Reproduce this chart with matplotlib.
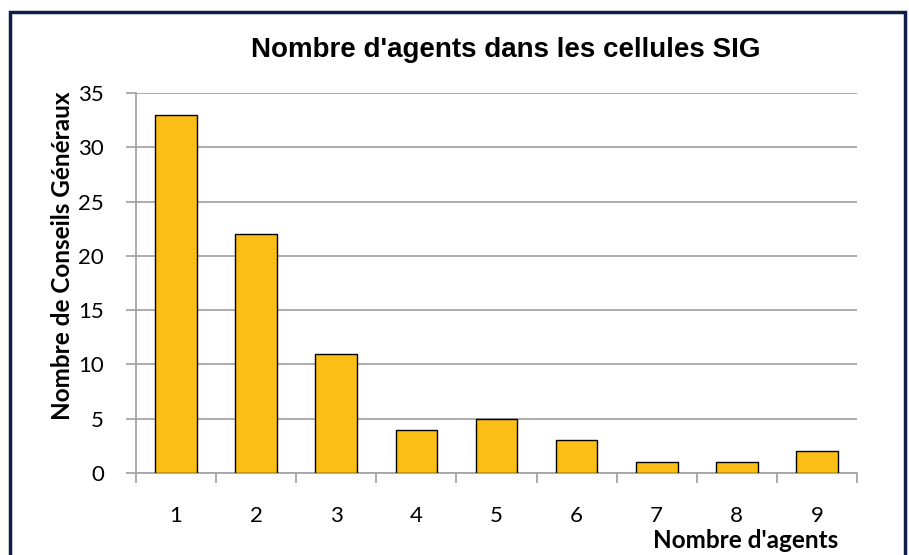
import matplotlib
matplotlib.use("Agg")
import matplotlib.pyplot as plt
from matplotlib.patches import Rectangle

# data
agents = ["1", "2", "3", "4", "5", "6", "7", "8", "9"]
conseils = [33, 22, 11, 4, 5, 3, 1, 1, 2]
y_ticks = [0, 5, 10, 15, 20, 25, 30, 35]

fig = plt.figure(figsize=(9.09, 5.55), dpi=100)
ax = fig.add_axes([136/909, 1 - 473/555, (857 - 136)/909, (473 - 93)/555])

x = list(range(len(agents)))
ax.bar(x, conseils, width=0.52, color="#FBBE16", edgecolor="black", linewidth=1, zorder=3)

ax.set_xlim(-0.5, len(agents) - 0.5)
ax.set_ylim(0, 35)
ax.set_yticks(y_ticks)
ax.set_xticks(x)
ax.set_xticklabels(agents)
ax.set_xticks([i - 0.5 for i in range(len(agents) + 1)], minor=True)

ax.grid(axis="y", color="#A6A6A6", linewidth=1.3, zorder=0)
for s in ["top", "right"]:
    ax.spines[s].set_visible(False)
ax.spines["left"].set_color("#A6A6A6")
ax.spines["bottom"].set_color("#A6A6A6")
ax.spines["left"].set_linewidth(1.3)
ax.spines["bottom"].set_linewidth(1.3)

ax.tick_params(axis="x", which="major", length=0, pad=24, labelsize=16)
ax.tick_params(axis="x", which="minor", length=7, width=1.3, color="#A6A6A6")
ax.tick_params(axis="y", length=7, width=1.3, color="#A6A6A6", labelsize=16, pad=16)
for lbl in ax.get_xticklabels() + ax.get_yticklabels():
    lbl.set_family("Lato")

ax.set_ylabel("Nombre de Conseils Généraux", fontsize=17.5, fontweight="bold",
              family="Lato")
ax.yaxis.set_label_coords(-0.086, 0.571)
fig.text(746/909, 1 - 540/555, "Nombre d'agents", fontsize=17.5, fontweight="bold",
         family="Lato", ha="center", va="center")
fig.text(506/909, 1 - 50/555, "Nombre d'agents dans les cellules SIG", fontsize=20,
         fontweight="bold", family="Liberation Sans", ha="center", va="center")

# navy frame around the chart
fig.patches.append(Rectangle((10/909, -0.05), (905 - 10)/909, 1.05 - 12/555,
                             transform=fig.transFigure, fill=False,
                             edgecolor="#0E1E4A", linewidth=2.5))

fig.savefig("out.png", dpi=100)
